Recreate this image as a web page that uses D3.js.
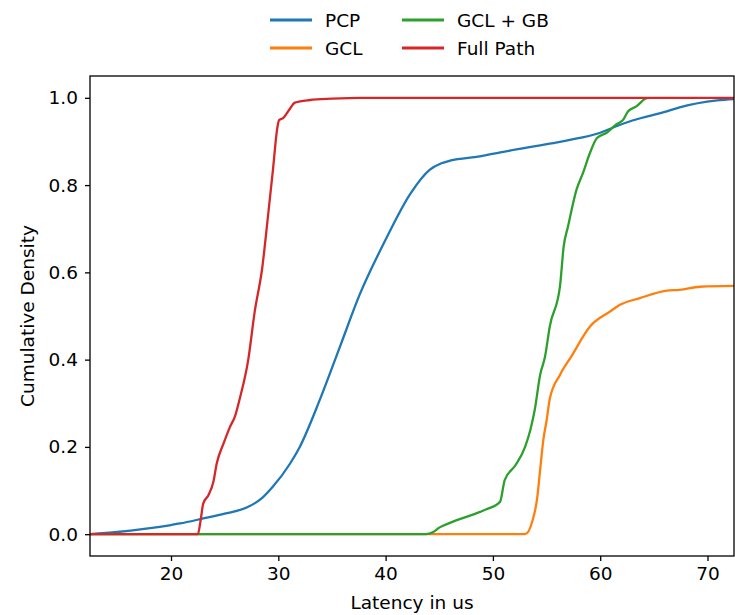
<!DOCTYPE html>
<html>
<head>
<meta charset="utf-8">
<script src="https://cdn.jsdelivr.net/npm/d3@7"></script>
<style>
  html, body { margin: 0; padding: 0; background: #fff; }
  svg { display: block; font-family: "DejaVu Sans", sans-serif; }
</style>
</head>
<body>
<svg id="chart" width="735" height="615"></svg>
<script>
// ---- data ----
const seriesNames = ["PCP", "GCL", "GCL + GB", "Full Path"];
const seriesColors = ["#1f77b4", "#ff7f0e", "#2ca02c", "#d62728"];

const pcpX = [12.45, 15, 17.5, 20, 20.84, 23, 25, 27.05, 28.5, 29.5, 31.1, 32.0, 33.9, 35.75, 37.6, 39.9, 42.3, 44.1, 45.2, 46, 48.8, 50.7, 55.3, 58.1, 60, 61.2, 63, 66.2, 67.4, 70.9, 72.47];
const pcpY = [0, 0.005, 0.012, 0.021, 0.0245, 0.036, 0.047, 0.061, 0.083, 0.109, 0.162, 0.2, 0.31, 0.43, 0.55, 0.67, 0.78, 0.835, 0.85, 0.856, 0.866, 0.875, 0.895, 0.908, 0.92, 0.932, 0.948, 0.969, 0.978, 0.994, 0.997];

const gclX = [12.45, 53.0, 53.7, 54.1, 54.4, 54.7, 55.0, 55.3, 56.25, 57.3, 59.05, 60.9, 61.8, 63.7, 66.2, 67.4, 69.3, 72.47];
const gclY = [0, 0, 0.032, 0.078, 0.147, 0.216, 0.26, 0.31, 0.365, 0.407, 0.476, 0.51, 0.525, 0.541, 0.558, 0.56, 0.567, 0.569];

const gcbX = [12.45, 43.7, 44.45, 45, 46, 48.8, 49.4, 50.66, 51.1, 52.1, 53.0, 53.5, 53.9, 54.4, 54.86, 55.3, 56.25, 56.6, 57.0, 57.8, 58.4, 59.05, 59.7, 60.6, 61.5, 62.15, 62.6, 63.4, 64.2, 64.4];
const gcbY = [0, 0, 0.005, 0.015, 0.026, 0.051, 0.057, 0.074, 0.124, 0.158, 0.2, 0.24, 0.285, 0.365, 0.407, 0.476, 0.568, 0.66, 0.705, 0.79, 0.828, 0.874, 0.908, 0.92, 0.939, 0.95, 0.969, 0.981, 0.998, 1.0];

const fullX = [12.45, 22.5, 22.75, 23.0, 23.5, 23.95, 24.26, 24.9, 25.5, 25.96, 26.4, 27.2, 27.8, 28.5, 29.0, 29.5, 29.9, 30.07, 30.47, 31.0, 31.55, 32.95, 35, 37.6, 72.47];
const fullY = [0, 0, 0.03, 0.07, 0.09, 0.12, 0.162, 0.208, 0.246, 0.27, 0.31, 0.40, 0.51, 0.61, 0.72, 0.835, 0.93, 0.949, 0.954, 0.972, 0.989, 0.995, 0.998, 1.0, 1.0];

const xTicks = [20, 30, 40, 50, 60, 70];
const yTicks = [0.0, 0.2, 0.4, 0.6, 0.8, 1.0];
const xLabel = "Latency in us";
const yLabel = "Cumulative Density";

// ---- layout ----
const svg = d3.select("#chart");
const L = 90, R = 734, T = 76, B = 556;
const FS = 18.5;

const x = d3.scaleLinear().domain([12.45, 72.47]).range([L, R]);
const y = d3.scaleLinear().domain([-0.05, 1.05]).range([B, T]);

svg.append("defs").append("clipPath").attr("id", "clip")
  .append("rect").attr("x", L).attr("y", T).attr("width", R - L).attr("height", B - T);

const series = [
  { xs: pcpX, ys: pcpY },
  { xs: gclX, ys: gclY },
  { xs: gcbX, ys: gcbY },
  { xs: fullX, ys: fullY }
];

const line = d3.line().x(d => x(d[0])).y(d => y(d[1])).curve(d3.curveMonotoneX);

const g = svg.append("g").attr("clip-path", "url(#clip)");
series.forEach((s, i) => {
  const pts = s.xs.map((v, j) => [v, s.ys[j]]);
  g.append("path").datum(pts)
    .attr("d", line)
    .attr("fill", "none")
    .attr("stroke", seriesColors[i])
    .attr("stroke-width", 2.3)
    .attr("stroke-linejoin", "round")
    .attr("stroke-linecap", "butt");
});

// axes
const xAxis = d3.axisBottom(x).tickValues(xTicks).tickFormat(d3.format("d")).tickSize(5).tickPadding(6);
const yAxis = d3.axisLeft(y).tickValues(yTicks).tickFormat(d3.format(".1f")).tickSize(5).tickPadding(7);

const gx = svg.append("g").attr("transform", `translate(0,${B})`).call(xAxis);
const gy = svg.append("g").attr("transform", `translate(${L},0)`).call(yAxis);
[gx, gy].forEach(a => {
  a.select(".domain").remove();
  a.selectAll("line").attr("stroke", "#000").attr("stroke-width", 1.3);
  a.selectAll("text").attr("font-size", FS).attr("fill", "#000").attr("font-family", "DejaVu Sans, sans-serif");
});

// frame
svg.append("rect").attr("x", L).attr("y", T).attr("width", R - L).attr("height", B - T)
  .attr("fill", "none").attr("stroke", "#000").attr("stroke-width", 1.3);

// axis labels
svg.append("text").attr("x", (L + R) / 2).attr("y", 609)
  .attr("text-anchor", "middle").attr("font-size", FS).attr("fill", "#000").text(xLabel);
svg.append("text").attr("transform", `translate(34,${(T + B) / 2}) rotate(-90)`)
  .attr("text-anchor", "middle").attr("font-size", FS).attr("fill", "#000").text(yLabel);

// legend (2 columns, column-major order)
const legendPos = [
  { lx: 270, ly: 20 }, { lx: 270, ly: 48 },
  { lx: 402, ly: 20 }, { lx: 402, ly: 48 }
];
seriesNames.forEach((name, i) => {
  const p = legendPos[i];
  svg.append("line").attr("x1", p.lx).attr("x2", p.lx + 42).attr("y1", p.ly).attr("y2", p.ly)
    .attr("stroke", seriesColors[i]).attr("stroke-width", 2.8);
  svg.append("text").attr("x", p.lx + 55).attr("y", p.ly).attr("dy", "0.36em")
    .attr("font-size", FS).attr("fill", "#000").text(name);
});
</script>
</body>
</html>
